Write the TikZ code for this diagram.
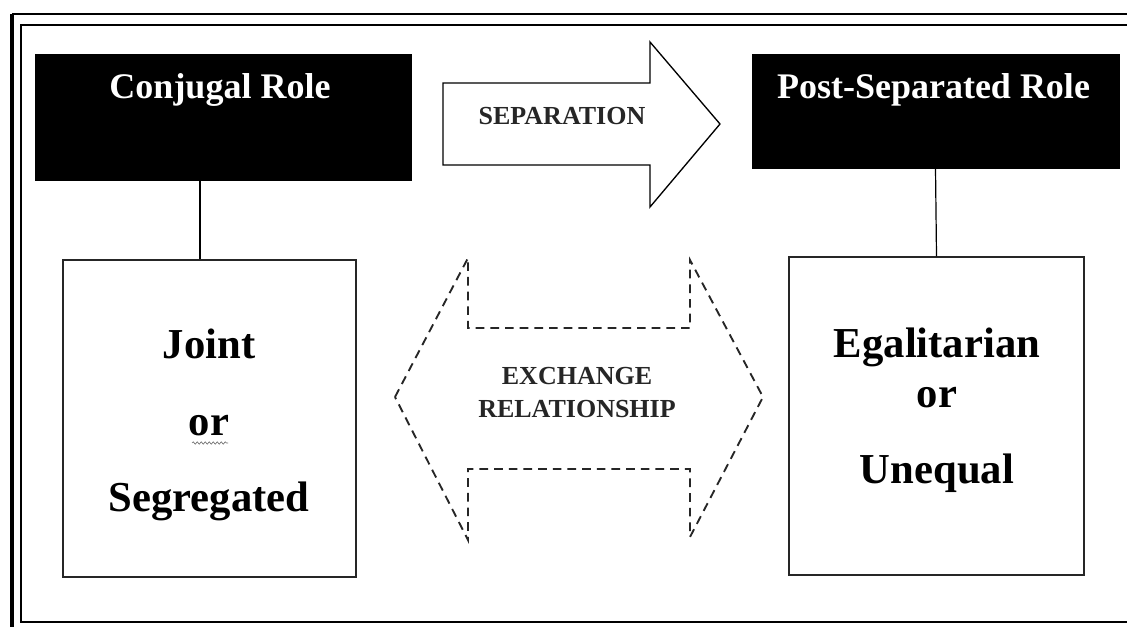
\documentclass[tikz,border=0pt]{standalone}
\usepackage{fontspec}
\setmainfont{Liberation Serif}
\usetikzlibrary{positioning,calc,decorations.pathmorphing}

\tikzset{
    rolebox/.style={draw=black, fill=black, inner sep=0pt},
    rolename/.style={text=white, anchor=base, font=\fontsize{27}{32}\selectfont\bfseries},
    kindbox/.style={draw=black!85, line width=1.1pt, fill=white, inner sep=0pt},
    kindname/.style={anchor=base, font=\fontsize{32}{38}\selectfont\bfseries},
    capsname/.style={anchor=base, text=black!85, font=\fontsize{19.5}{24}\selectfont\bfseries},
    link/.style={line width=0.9pt},
    dashline/.style={line width=1.4pt, black!85, dash pattern=on 6.5pt off 4.5pt},
}

\begin{document}
\begin{tikzpicture}[x=0.75pt, y=-0.75pt]
    \useasboundingbox (0,0) rectangle (1127,627);
    \fill[white] (0,0) rectangle (1127,627);

    % 外框（双线）
    \draw[line width=2.4pt] (12,660) -- (12,14);
    \draw[line width=1.6pt] (12,14) -- (1160,14);
    \draw[line width=1.1pt] (1160,622) -- (21,622) -- (21,25) -- (1160,25);

    % 角色框
    \node[rolebox, minimum width=282pt, minimum height=94.5pt] (conj) at (223,117) {};
    \node[rolebox, minimum width=275.25pt, minimum height=85.5pt] (post) at (935.5,111) {};
    \node[rolename] (conjname) at (220,99) {Conjugal Role};
    \node[rolename] (postname) at (933.5,99) {Post-Separated Role};

    % 下方类型框
    \node[kindbox, minimum width=219.75pt, minimum height=237.75pt] (joint) at (209.5,418.5) {};
    \node[kindbox, minimum width=221.25pt, minimum height=238.5pt] (egal) at (936.5,416) {};

    % 连线
    \draw[link] ([xshift=-7.1pt]joint.north) -- ([xshift=-7.1pt]joint.north |- conj.south);
    \draw[link] (post.south) -- (egal.north);

    % 左框文字
    \node[kindname] (jointname) at (209,358) {Joint};
    \node[kindname] (orleft) at (209,435) {or};
    \node[kindname] (segname) at (209,511) {Segregated};
    \draw[black!55, line width=0.5pt, decorate,
          decoration={snake, amplitude=0.9pt, segment length=3pt}] (192,443) -- (228,443);

    % 右框文字
    \node[kindname] (egalname) at (937,357) {Egalitarian};
    \node[kindname] (orright) at (937,407) {or};
    \node[kindname] (uneqname) at (937,483) {Unequal};

    % 分离箭头
    \draw[line width=1pt, fill=white] (443,83) -- (650,83) -- (650,42) -- (720,124)
        -- (650,207) -- (650,165) -- (443,165) -- cycle;
    \node[capsname] (sepname) at (562,125) {SEPARATION};

    % 交换关系（虚线双向箭头）
    \draw[dashline] (395,397) -- (468,258) -- (468,328) -- (690,328) -- (690,260)
        -- (763,397) -- (690,537) -- (690,469) -- (468,469) -- (468,540) -- cycle;
    \node[capsname] (exchname) at (577,384) {EXCHANGE};
    \node[capsname] (relname) at (577,417) {RELATIONSHIP};
\end{tikzpicture}
\end{document}
